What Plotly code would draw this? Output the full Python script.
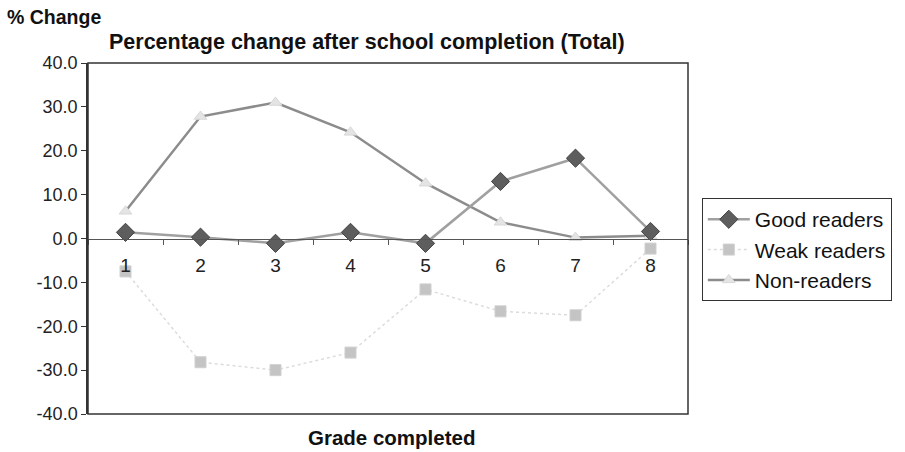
import plotly.graph_objects as go

grades = ["1", "2", "3", "4", "5", "6", "7", "8"]
good_readers = [1.4, 0.3, -1.1, 1.4, -1.1, 13.0, 18.3, 1.6]
weak_readers = [-7.5, -28.2, -30.0, -26.0, -11.6, -16.6, -17.5, -2.3]
non_readers = [6.2, 27.8, 31.0, 24.2, 12.6, 3.7, 0.2, 0.6]
y_ticks = [-40, -30, -20, -10, 0, 10, 20, 30, 40]
y_tick_labels = ["-40.0", "-30.0", "-20.0", "-10.0", "0.0", "10.0", "20.0", "30.0", "40.0"]

FONT = "Liberation Sans, Arial, sans-serif"

fig = go.Figure()
fig.add_trace(go.Scatter(
    x=grades, y=weak_readers, name="Weak readers", mode="lines+markers", legendrank=2,
    line=dict(color="#dcdcdc", width=1.5, dash="dot"),
    marker=dict(symbol="square", size=11, color="#c4c4c4", line=dict(color="#cfcfcf", width=1)),
))
fig.add_trace(go.Scatter(
    x=grades, y=non_readers, name="Non-readers", mode="lines+markers", legendrank=3,
    line=dict(color="#8c8c8c", width=2.5),
    marker=dict(symbol="triangle-up", size=11, color="#e4e4e4", line=dict(color="#d8d8d8", width=1)),
))
fig.add_trace(go.Scatter(
    x=grades, y=good_readers, name="Good readers", mode="lines+markers", legendrank=1,
    line=dict(color="#a0a0a0", width=2.5),
    marker=dict(symbol="diamond", size=14, color="#5e5e5e", line=dict(color="#444444", width=1)),
))

fig.update_layout(
    width=905, height=452,
    margin=dict(l=88, r=217, t=63, b=38),
    paper_bgcolor="white", plot_bgcolor="white",
    font=dict(family=FONT, color="#111111", size=18),
    showlegend=True,
    legend=dict(
        x=1.023, y=0.615, xanchor="left", yanchor="top",
        bordercolor="#333333", borderwidth=1, bgcolor="white",
        font=dict(size=21, family=FONT, color="#111111"),
        tracegroupgap=0, itemwidth=42,
    ),
    xaxis=dict(
        type="category", range=[-0.5, 7.5],
        anchor="free", position=0.5,
        showline=True, linecolor="#555555", linewidth=1,
        ticks="outside", tickson="boundaries", ticklen=5, tickcolor="#555555",
        showgrid=False, zeroline=False,
        tickfont=dict(size=19, family=FONT, color="#222222"),
        ticklabelstandoff=10,
    ),
    yaxis=dict(
        range=[-40, 40], tickvals=y_ticks, ticktext=y_tick_labels,
        showline=True, linecolor="#333333", linewidth=1.5,
        ticks="outside", ticklen=5, tickcolor="#333333",
        showgrid=False, zeroline=False,
        tickfont=dict(size=18, family=FONT, color="#222222"),
    ),
    shapes=[dict(type="rect", xref="paper", yref="paper", x0=0, x1=1, y0=0, y1=1,
                 line=dict(color="#333333", width=1.5), layer="above")],
    annotations=[
        dict(text="<b>% Change</b>", xref="paper", yref="paper", x=-0.138, y=1.131,
             xanchor="left", yanchor="middle", showarrow=False,
             font=dict(size=19.5, family=FONT, color="#111111")),
        dict(text="<b>Percentage change after school completion (Total)</b>", xref="paper", yref="paper",
             x=0.465, y=1.06, xanchor="center", yanchor="middle", showarrow=False,
             font=dict(size=21.5, family=FONT, color="#111111")),
        dict(text="<b>Grade completed</b>", xref="paper", yref="paper", x=0.505, y=-0.068,
             xanchor="center", yanchor="middle", showarrow=False,
             font=dict(size=20.5, family=FONT, color="#111111")),
    ],
)

fig.write_html("out.html")
